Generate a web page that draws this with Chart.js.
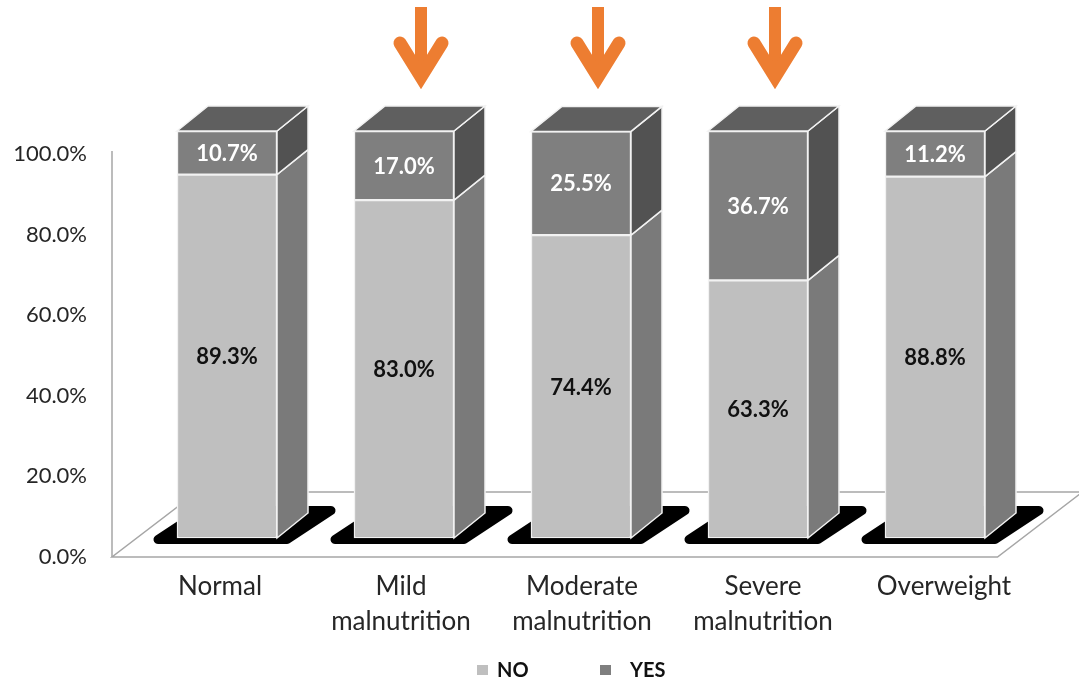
<!DOCTYPE html>
<html>
<head>
<meta charset="utf-8">
<script src="https://cdn.jsdelivr.net/npm/chart.js@4.4.1/dist/chart.umd.min.js"></script>
<style>
  html, body { margin: 0; padding: 0; background: #fff; }
  #wrap { width: 1079px; height: 684px; }
</style>
</head>
<body>
<div id="wrap"><canvas id="malnutritionChart"></canvas></div>
<script>
const categories = ['Normal', ['Mild', 'malnutrition'], ['Moderate', 'malnutrition'], ['Severe', 'malnutrition'], 'Overweight'];
const noValues = [89.3, 83.0, 74.4, 63.3, 88.8];
const yesValues = [10.7, 17.0, 25.5, 36.7, 11.2];
const seriesNames = ['NO', 'YES'];
const highlighted = [1, 2, 3];   // categories with an orange arrow

const frontColors = ['#bfbfbf', '#7f7f7f'];
const sideColors = ['#7a7a7a', '#525252'];
const topColor = '#5f5f5f';
const DX = 31, DY = -25;   // depth of the 3D boxes

function poly(ctx, pts, fill) {
    ctx.beginPath();
    ctx.moveTo(pts[0][0], pts[0][1]);
    for (let k = 1; k < pts.length; k++) ctx.lineTo(pts[k][0], pts[k][1]);
    ctx.closePath();
    ctx.fillStyle = fill;
    ctx.fill();
    ctx.stroke();
}

// floor, axis line and bar shadows (behind the bars), then box sides/tops
const floorPlugin = {
    id: 'floor3d',
    beforeDatasetsDraw(chart) {
        const ctx = chart.ctx, area = chart.chartArea;
        const axisX = 112;
        ctx.save();
        ctx.strokeStyle = '#a6a6a6';
        ctx.lineWidth = 1.5;
        ctx.beginPath();
        ctx.moveTo(axisX, area.bottom);
        ctx.lineTo(area.right - 26, area.bottom);
        ctx.lineTo(area.right + 59, area.bottom - 65);
        ctx.lineTo(axisX + 85, area.bottom - 65);
        ctx.closePath();
        ctx.fillStyle = '#ffffff';
        ctx.fill();
        ctx.stroke();
        ctx.beginPath();
        ctx.moveTo(axisX, area.top - 3);
        ctx.lineTo(axisX, area.bottom);
        ctx.stroke();

        const meta = chart.getDatasetMeta(0);
        ctx.fillStyle = '#000';
        ctx.strokeStyle = '#000';
        ctx.lineJoin = 'round';
        ctx.lineWidth = 9;
        meta.data.forEach(bar => {
            const L = bar.x - bar.width / 2, R = bar.x + bar.width / 2, b = bar.base;
            ctx.beginPath();
            ctx.moveTo(L - 19, b + 1.5);
            ctx.lineTo(R + 10, b + 1.5);
            ctx.lineTo(R + 54, b - 27.5);
            ctx.lineTo(L + 25, b - 27.5);
            ctx.closePath();
            ctx.fill();
            ctx.stroke();
        });
        ctx.restore();
    },
    afterDatasetsDraw(chart) {
        const ctx = chart.ctx;
        const n = chart.data.datasets.length;
        ctx.save();
        ctx.strokeStyle = '#f2f2f2';
        ctx.lineWidth = 1.5;
        for (let d = 0; d < n; d++) {
            chart.getDatasetMeta(d).data.forEach(bar => {
                const L = bar.x - bar.width / 2, R = bar.x + bar.width / 2;
                const top = Math.min(bar.y, bar.base), bottom = Math.max(bar.y, bar.base);
                poly(ctx, [[R, top], [R + DX, top + DY], [R + DX, bottom + DY], [R, bottom]], sideColors[d]);
                if (d === n - 1) {
                    poly(ctx, [[L, top], [L + DX, top + DY], [R + DX, top + DY], [R, top]], topColor);
                }
            });
        }
        ctx.restore();
    }
};

// value labels, arrows and legend
const labelPlugin = {
    id: 'labels3d',
    afterDraw(chart) {
        const ctx = chart.ctx;
        ctx.save();
        ctx.font = 'bold 22px Lato';
        ctx.textAlign = 'center';
        ctx.textBaseline = 'middle';
        chart.data.datasets.forEach((ds, d) => {
            ctx.fillStyle = d === 0 ? '#111' : '#fff';
            chart.getDatasetMeta(d).data.forEach((bar, i) => {
                ctx.fillText(ds.data[i].toFixed(1) + '%', bar.x, (bar.y + bar.base) / 2 + 1);
            });
        });

        const xs = chart.scales.x;
        ctx.fillStyle = '#ed7d31';
        ctx.strokeStyle = '#ed7d31';
        highlighted.forEach(i => {
            const x = xs.getPixelForValue(i) + 17;
            ctx.fillRect(x - 6, 7, 12, 64);
            ctx.lineWidth = 13;
            ctx.lineCap = 'round';
            ctx.lineJoin = 'miter';
            ctx.beginPath();
            ctx.moveTo(x - 21, 43);
            ctx.lineTo(x, 77);
            ctx.lineTo(x + 21, 43);
            ctx.stroke();
        });

        // legend
        ctx.font = 'bold 20px Lato';
        ctx.textAlign = 'left';
        const items = [[477, frontColors[0]], [600, frontColors[1]]];
        items.forEach(([x, c], k) => {
            ctx.fillStyle = c;
            ctx.fillRect(x, 665, 11, 10);
            ctx.fillStyle = '#111';
            ctx.fillText(seriesNames[k], x + (k === 0 ? 20 : 30), 671);
        });
        ctx.restore();
    }
};

const ctx = document.getElementById('malnutritionChart').getContext('2d');
const malnutritionChart = new Chart(ctx, {
    type: 'bar',
    data: {
        labels: categories,
        datasets: [{
            label: seriesNames[0],
            data: noValues,
            backgroundColor: frontColors[0],
            borderColor: '#f2f2f2',
            borderWidth: 1.5,
            borderSkipped: false,
            barThickness: 100,
            yAxisID: 'yb',
            clip: false
        }, {
            label: seriesNames[1],
            data: yesValues,
            backgroundColor: frontColors[1],
            borderColor: '#f2f2f2',
            borderWidth: 1.5,
            borderSkipped: false,
            barThickness: 100,
            yAxisID: 'yb',
            clip: false
        }]
    },
    options: {
        responsive: true,
        maintainAspectRatio: false,
        animation: false,
        devicePixelRatio: 1,
        layout: { padding: { top: 154, right: 55.5, bottom: 0, left: 0 } },
        plugins: {
            legend: { display: false },
            tooltip: { enabled: false }
        },
        scales: {
            x: {
                stacked: true,
                display: false
            },
            // category names sit on the floor's front edge, spread a bit wider than the boxes
            xl: {
                type: 'linear',
                position: 'bottom',
                offset: false,
                min: -0.4503,
                max: 4.4392,
                grid: { display: false, offset: false },
                border: { display: false },
                afterBuildTicks(scale) {
                    scale.ticks = categories.map((c, i) => ({ value: i }));
                },
                ticks: {
                    font: { family: 'Lato', size: 26, lineHeight: 1.35 },
                    color: '#262626',
                    padding: 4,
                    maxRotation: 0,
                    autoSkip: false,
                    callback: v => categories[v]
                },
                afterFit(scale) { scale.height = 127; }
            },
            y: {
                position: 'left',
                min: 0,
                max: 100,
                grid: { display: false, drawTicks: false },
                border: { display: false },
                ticks: {
                    stepSize: 20,
                    padding: 51.5,
                    font: { family: 'Lato', size: 22 },
                    color: '#262626',
                    callback: v => v.toFixed(1) + '%'
                },
                afterFit(scale) { scale.width = 138.5; }
            },
            yb: {
                display: false,
                stacked: true,
                min: -4.668,
                max: 94.35
            }
        }
    },
    plugins: [floorPlugin, labelPlugin]
});
</script>
</body>
</html>
